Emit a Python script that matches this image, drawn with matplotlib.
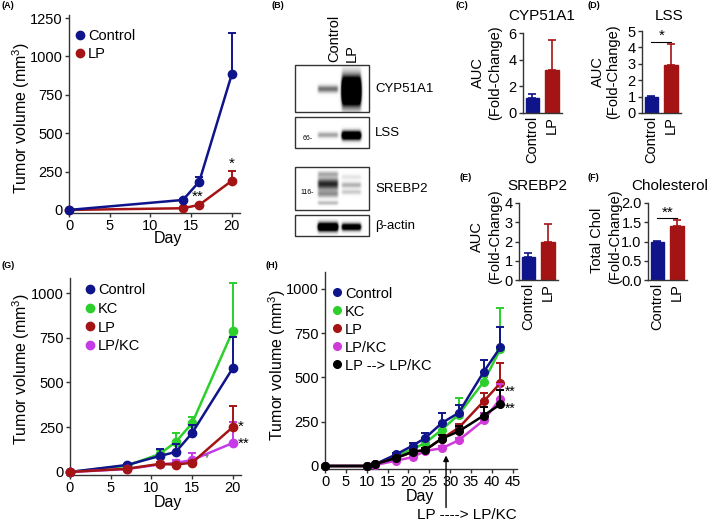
import numpy as np
import matplotlib
matplotlib.use('Agg')
import matplotlib.pyplot as plt
from matplotlib.patches import Rectangle

plt.rcParams['font.family'] = ['Liberation Sans', 'DejaVu Sans']
plt.rcParams['mathtext.fontset'] = 'custom'
plt.rcParams['mathtext.rm'] = 'Liberation Sans'
plt.rcParams['mathtext.it'] = 'Liberation Sans:italic'

W, H = 709, 522

NAVY = '#10148a'
RED = '#a51414'
GREEN = '#2ccf2c'
VIOLET = '#c43ce8'
MAGENTA = '#d03ad8'
BLACK = '#000000'

# ---- (A) tumour growth, Control vs LP
a_days = [0, 14, 16, 20]
a_control = [0, 65, 185, 885]
a_control_err = [0, 8, 30, 270]
a_lp = [0, 11, 33, 190]
a_lp_err = [0, 4, 8, 62]

# ---- (B) blot: boxes, lanes, bands (box, lane, centre y, spread, darkness)
blot_boxes = [(295, 65, 369, 112), (295, 117, 369, 148), (295, 167, 369, 210), (295, 215, 369, 236)]
blot_labels = ['CYP51A1', 'LSS', 'SREBP2', 'β-actin']
lane_x = [(318, 338), (342, 361)]
bands = [
    (0, 0, 89, 2.5, 0.55), (0, 1, 91, 9, 3.0),
    (1, 0, 135, 2, 0.35), (1, 1, 135.5, 3, 1.8),
    (2, 0, 174, 2, 0.3), (2, 0, 184, 4, 0.85), (2, 0, 194, 2.5, 0.4), (2, 0, 203, 1.5, 0.25),
    (2, 1, 177, 2, 0.1), (2, 1, 185, 2, 0.3), (2, 1, 192, 1.8, 0.2),
    (3, 0, 227, 3, 1.8), (3, 1, 227, 2.5, 1.4),
]

# ---- (C)-(F) bars
groups = ['Control', 'LP']
c_mean, c_err = [1.15, 3.2], [0.25, 2.3]
d_mean, d_err = [1.0, 2.95], [0.05, 1.25]
e_mean, e_err = [1.2, 2.0], [0.22, 0.9]
f_mean, f_err = [1.0, 1.4], [0.02, 0.15]

# ---- (G)
g_days = [0, 7, 11, 13, 15, 20]
g_control = [0, 39, 89, 112, 218, 581]
g_control_err = [0, 6, 39, 44, 44, 173]
g_kc = [0, 35, 100, 168, 273, 790]
g_kc_err = [0, 6, 20, 49, 34, 265]
g_lp = [0, 18, 45, 41, 52, 251]
g_lp_err = [0, 4, 8, 8, 12, 118]
g_lpkc = [0, 16, 42, 50, 67, 162]
g_lpkc_err = [0, 4, 8, 16, 39, 117]

# ---- (H)
h_days = [0, 10, 12, 17, 21, 24, 28, 32, 38, 42]
h_control = [0, 0, 10, 65, 115, 158, 243, 300, 531, 670]
h_control_err = [0, 0, 4, 10, 15, 28, 57, 45, 70, 115]
h_kc = [0, 0, 10, 55, 95, 130, 205, 290, 475, 660]
h_kc_err = [0, 0, 4, 10, 12, 18, 25, 95, 25, 230]
h_lp = [0, 0, 10, 45, 80, 90, 155, 215, 365, 468]
h_lp_err = [0, 0, 4, 8, 10, 12, 18, 22, 45, 113]
h_lpkc = [0, 0, 5, 30, 50, 85, 100, 145, 258, 380]
h_lpkc_err = [0, 0, 3, 6, 8, 10, 12, 14, 40, 85]
h_switch = [0, 0, 10, 45, 80, 90, 155, 195, 285, 348]
h_switch_err = [0, 0, 4, 8, 10, 12, 20, 30, 50, 80]
switch_day = 29

fig = plt.figure(figsize=(W / 100, H / 100), dpi=100)


def px_axes(l, t, r, b):
    return fig.add_axes([l / W, 1 - b / H, (r - l) / W, (b - t) / H])


def ftext(x, y, s, **kw):
    fig.text(x / W, 1 - y / H, s, **kw)


def style(ax, fs=10.5):
    for s in ['top', 'right']:
        ax.spines[s].set_visible(False)
    for s in ['left', 'bottom']:
        ax.spines[s].set_linewidth(1.0)
        ax.spines[s].set_color('#333333')
    ax.tick_params(direction='out', length=3, width=1, labelsize=fs, pad=1.5, color='#333333')
    ax.patch.set_alpha(0)


def curve(ax, x, y, err, color, ms=6.0, lw=1.8, z=3):
    cont = ax.errorbar(x, y, yerr=[np.zeros(len(err)), err], fmt='-o', color=color, ms=ms, lw=lw,
                       elinewidth=1.4, capsize=3.2, capthick=1.4, zorder=z)
    for art in cont.get_children():
        art.set_clip_on(False)


def bars(ax, means, errs, ylim, ticks, fmt=None):
    x = np.arange(len(means))
    cols = [NAVY, RED]
    ax.bar(x, means, width=0.68, color=cols, edgecolor=cols)
    for xi, m, e, c in zip(x, means, errs, cols):
        ax.errorbar(xi, m, yerr=[[0], [e]], color=c, capsize=3, elinewidth=1.2, capthick=1.2)
    ax.set_xlim(-0.48, 1.5)
    ax.set_ylim(*ylim)
    ax.set_yticks(ticks)
    if fmt:
        ax.set_yticklabels([fmt % t for t in ticks])
    ax.set_xticks(x)
    ax.set_xticklabels(groups, rotation=90)
    style(ax, 10.5)
    ax.tick_params(axis='x', length=0, pad=2)


# ---------- (A)
axA = px_axes(69, 15, 240, 213)
curve(axA, a_days, a_control, a_control_err, NAVY, z=4)
curve(axA, a_days, a_lp, a_lp_err, RED, z=3)
axA.set_xlim(0, 21)
axA.set_ylim(-20, 1270)
axA.set_xticks([0, 5, 10, 15, 20])
axA.set_yticks([0, 250, 500, 750, 1000, 1250])
style(axA)
axA.text(15.8, 85, '**', fontsize=11, ha='center', va='center')
axA.text(20, 300, '*', fontsize=11, ha='center', va='center')

# ---------- (C)-(F)
axC = px_axes(523, 33, 562, 113)
bars(axC, c_mean, c_err, (0, 6), [0, 2, 4, 6])
axD = px_axes(642, 31, 681, 113)
bars(axD, d_mean, d_err, (0, 5), [0, 1, 2, 3, 4, 5])
axD.plot([0, 1], [4.35, 4.35], color='k', lw=0.8)
axD.text(0.5, 4.3, '*', fontsize=11, ha='center', va='bottom')
axE = px_axes(519, 203, 558, 280)
bars(axE, e_mean, e_err, (0, 4), [0, 1, 2, 3, 4])
axF = px_axes(648, 203, 687, 280)
bars(axF, f_mean, f_err, (0, 2), [0, 0.5, 1.0, 1.5, 2.0], '%.1f')
axF.plot([0, 1], [1.6, 1.6], color='k', lw=0.8)
axF.text(0.5, 1.56, '**', fontsize=11, ha='center', va='bottom')

# ---------- (G)
axG = px_axes(70, 278, 241, 475)
curve(axG, g_days, g_kc, g_kc_err, GREEN, z=2)
curve(axG, g_days, g_control, g_control_err, NAVY, z=3)
curve(axG, g_days, g_lpkc, g_lpkc_err, VIOLET, z=4)
curve(axG, g_days, g_lp, g_lp_err, RED, z=5)
axG.set_xlim(0, 21)
axG.set_ylim(-17, 1084)
axG.set_xticks([0, 5, 10, 15, 20])
axG.set_yticks([0, 250, 500, 750, 1000])
style(axG)
axG.text(20.6, 250, '*', fontsize=11, ha='left', va='center', clip_on=False)
axG.text(20.6, 160, '**', fontsize=11, ha='left', va='center', clip_on=False)
axG.text(16.8, 80, '*', fontsize=7, ha='center', va='center', color='#555555', zorder=6)

# ---------- (H)
axH = px_axes(325, 272, 517, 469)
curve(axH, h_days, h_kc, h_kc_err, GREEN, ms=5.5, z=2)
curve(axH, h_days, h_control, h_control_err, NAVY, ms=5.5, z=3)
curve(axH, h_days, h_lp, h_lp_err, RED, ms=5.5, z=4)
curve(axH, h_days, h_lpkc, h_lpkc_err, MAGENTA, ms=5.5, z=5)
curve(axH, h_days, h_switch, h_switch_err, BLACK, ms=5.5, z=6)
axH.set_xlim(0, 46)
axH.set_ylim(-17, 1096)
axH.set_xticks(range(0, 46, 5))
axH.set_yticks([0, 250, 500, 750, 1000])
style(axH, 10.5)
axH.tick_params(axis='x', pad=1)
axH.text(43.2, 418, '**', fontsize=10, ha='left', va='center', clip_on=False)
axH.text(43.2, 322, '**', fontsize=10, ha='left', va='center', clip_on=False)
axH.annotate('', xy=(switch_day, 75), xytext=(switch_day, -250), xycoords='data',
             arrowprops=dict(arrowstyle='-|>', lw=1.0, color='k', mutation_scale=8),
             annotation_clip=False)

# ---------- axis labels and panel texts
ylab = 'Tumor volume (mm$^{3}$)'
ftext(21, 118, ylab, rotation=90, fontsize=11.5, ha='center', va='center')
ftext(21, 369, ylab, rotation=90, fontsize=11.5, ha='center', va='center')
ftext(277, 365, ylab, rotation=90, fontsize=11.5, ha='center', va='center')
ftext(168, 239, 'Day', fontsize=11.5, ha='center', va='center')
ftext(168, 502, 'Day', fontsize=11.5, ha='center', va='center')
ftext(420, 497, 'Day', fontsize=11.5, ha='center', va='center')
ftext(467, 515, 'LP ----> LP/KC', fontsize=11, ha='center', va='center')

for lab, x, y in [('(A)', 2, 6), ('(B)', 272, 6), ('(C)', 456, 6), ('(D)', 588, 6),
                  ('(E)', 460, 177), ('(F)', 588, 177), ('(G)', 2, 265), ('(H)', 265, 265)]:
    ftext(x, y, lab, fontsize=6.5, fontweight='bold', ha='left', va='center')

ftext(542, 16, 'CYP51A1', fontsize=11, ha='center', va='center')
ftext(669, 16, 'LSS', fontsize=11, ha='center', va='center')
ftext(537, 186, 'SREBP2', fontsize=11, ha='center', va='center')
ftext(670, 186, 'Cholesterol', fontsize=11, ha='center', va='center')
for x, y, s in [(478, 73, 'AUC'), (495, 73, '(Fold-Change)'), (598, 72, 'AUC'), (613, 72, '(Fold-Change)'),
                (477, 237, 'AUC'), (495, 237, '(Fold-Change)'), (597, 240, 'Total Chol'), (615, 237, '(Fold-Change)')]:
    ftext(x, y, s, rotation=90, fontsize=10.5, ha='center', va='center')

# ---------- overlay: blot + legends
ov = fig.add_axes([0, 0, 1, 1], zorder=10)
ov.axis('off')

for bi, (l, t, r, b) in enumerate(blot_boxes):
    xs = np.linspace(l, r, (r - l) * 4)
    ys = np.linspace(t, b, (b - t) * 4)
    dens = np.zeros((len(ys), len(xs)))
    for box, lane, yc, s, d in bands:
        if box != bi:
            continue
        x0, x1 = lane_x[lane]
        hm = 1 / (1 + np.exp(-(xs - x0) / 0.6)) / (1 + np.exp((xs - x1) / 0.6))
        vm = np.exp(-0.5 * ((ys - yc) / s) ** 2)
        dens += d * np.outer(vm, hm)
    img = 1 - np.clip(dens, 0, 1)
    ov.imshow(img, cmap='gray', vmin=0, vmax=1, extent=(l, r, b, t), aspect='auto',
              interpolation='bilinear')
    ov.add_patch(Rectangle((l, t), r - l, b - t, fill=False, lw=1.0, ec='#333333'))
    ov.text(375, (t + b) / 2, blot_labels[bi], fontsize=9.5, ha='left', va='center')

ov.text(313, 139, '66-', fontsize=5, ha='right', va='center')
ov.text(314, 193, '116-', fontsize=5, ha='right', va='center')
ov.text(334, 62, 'Control', rotation=90, fontsize=10.5, ha='center', va='bottom')
ov.text(352, 62, 'LP', rotation=90, fontsize=10.5, ha='center', va='bottom')


def legend(x, y0, dy, labels, colors, ms=6.0):
    for i, (lab, c) in enumerate(zip(labels, colors)):
        y = y0 + i * dy
        ov.plot(x, y, 'o', color=c, ms=ms)
        ov.text(x + 8, y, lab, fontsize=10.5, ha='left', va='center_baseline')


legend(80, 35, 18, ['Control', 'LP'], [NAVY, RED])
legend(90, 289, 18.5, ['Control', 'KC', 'LP', 'LP/KC'], [NAVY, GREEN, RED, VIOLET])
legend(337, 292, 18, ['Control', 'KC', 'LP', 'LP/KC', 'LP --> LP/KC'], [NAVY, GREEN, RED, MAGENTA, BLACK], ms=5.5)

ov.set_xlim(0, W)
ov.set_ylim(H, 0)

fig.savefig('out.png', dpi=100)
